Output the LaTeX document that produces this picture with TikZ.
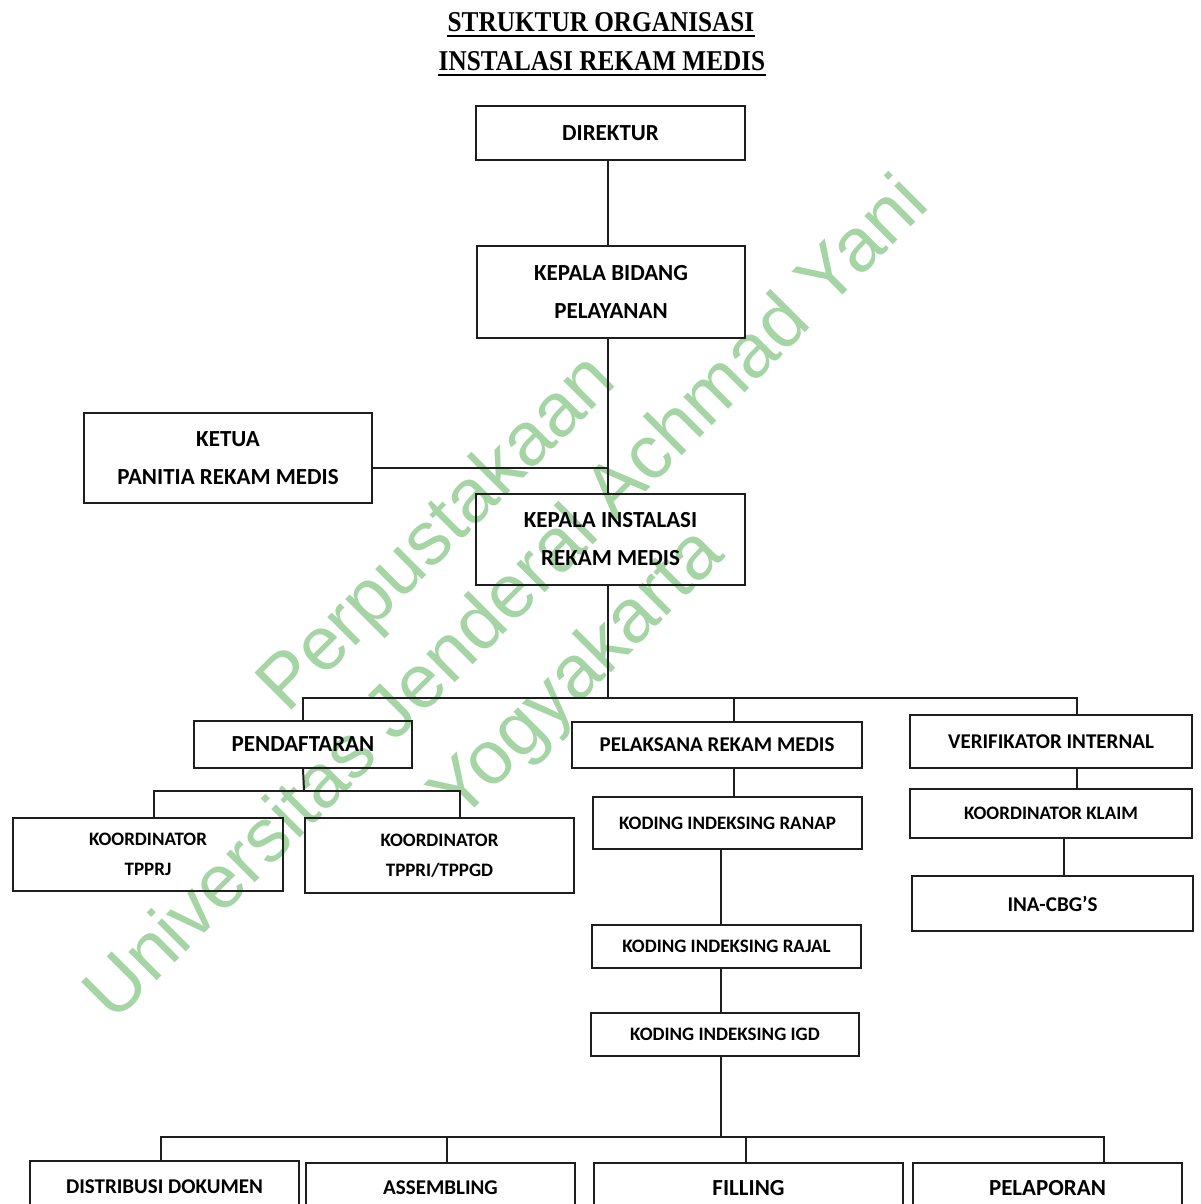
\documentclass[tikz,border=0pt]{standalone}
\usepackage{graphicx}
\usepackage{fontspec}
\setmainfont{Carlito}
\newfontfamily\titlefont{Liberation Serif}
\newfontfamily\wmfont{Liberation Sans}
\definecolor{wmgreen}{RGB}{165,212,165}
\definecolor{linec}{RGB}{30,30,30}
\tikzset{
  box/.style={draw=linec, line width=1pt, inner sep=0pt, align=center, text=black},
  big/.style={font=\bfseries\fontsize{11.5}{19}\selectfont},
  mid/.style={font=\bfseries\fontsize{10.5}{17}\selectfont},
  small/.style={font=\bfseries\fontsize{9.5}{15}\selectfont},
  conn/.style={draw=linec, line width=1pt},
  wm/.style={font=\wmfont\fontsize{38}{40}\selectfont, text=wmgreen, rotate=45, anchor=base, inner sep=0pt},
  ttl/.style={font=\titlefont\bfseries\fontsize{14.35}{17}\selectfont, inner sep=0pt, anchor=base}
}
\begin{document}
\begin{tikzpicture}[x=0.5pt, y=-0.5pt]
\useasboundingbox (0,0) rectangle (1200,1204);
\fill[white] (0,0) rectangle (1200,1204);
\clip (0,0) rectangle (1200,1204);

% watermark
\node[wm] (w1) at (453,549) {Perpustakaan};
\node[wm] (w2) at (523,615) {Universitas Jenderal Achmad Yani};
\node[wm] (w3) at (593,690) {Yogyakarta};

% title
\node[ttl] (t1) at (601,32) {\scalebox{0.88}[1]{STRUKTUR ORGANISASI}};
\node[ttl] (t2) at (602,71) {\scalebox{0.88}[1]{INSTALASI REKAM MEDIS}};
\draw[line width=1pt] ([yshift=-2pt]t1.base west) -- ([yshift=-2pt]t1.base east);
\draw[line width=1pt] ([yshift=-2pt]t2.base west) -- ([yshift=-2pt]t2.base east);

% boxes
\node[box, big, minimum width=134.5pt, minimum height=27pt] (dir) at (610.5,133) {DIREKTUR};
\node[box, big, minimum width=134pt, minimum height=46pt] (kbp) at (611,292) {KEPALA BIDANG\\PELAYANAN};
\node[box, big, minimum width=144pt, minimum height=45pt] (ketua) at (228,458) {KETUA\\PANITIA REKAM MEDIS};
\node[box, big, minimum width=134.5pt, minimum height=45.5pt] (kirm) at (610.5,539.5) {KEPALA INSTALASI\\REKAM MEDIS};
\node[box, big, minimum width=109pt, minimum height=23.5pt] (pend) at (303,744.5) {PENDAFTARAN};
\node[box, mid, minimum width=145pt, minimum height=23pt] (pel) at (717,745) {PELAKSANA REKAM MEDIS};
\node[box, mid, minimum width=141pt, minimum height=26.5pt] (verif) at (1051,741.5) {VERIFIKATOR INTERNAL};
\node[box, small, minimum width=135pt, minimum height=36.5pt] (tpprj) at (148,854.5) {KOORDINATOR\\TPPRJ};
\node[box, small, minimum width=134.5pt, minimum height=37.5pt] (tppri) at (439.5,855.5) {KOORDINATOR\\TPPRI/TPPGD};
\node[box, small, minimum width=134.5pt, minimum height=26pt] (ranap) at (727.5,823) {KODING INDEKSING RANAP};
\node[box, small, minimum width=141pt, minimum height=24.5pt] (klaim) at (1051,813.5) {KOORDINATOR KLAIM};
\node[box, mid, minimum width=140.5pt, minimum height=27.5pt] (ina) at (1052.5,903.5) {INA-CBG'S};
\node[box, small, minimum width=134.5pt, minimum height=21.5pt] (rajal) at (726.5,946.5) {KODING INDEKSING RAJAL};
\node[box, small, minimum width=134pt, minimum height=21.5pt] (igd) at (725,1034.5) {KODING INDEKSING IGD};
\node[box, mid, minimum width=134.5pt, minimum height=26pt] (dist) at (164.5,1187) {DISTRIBUSI DOKUMEN};
\node[box, mid, minimum width=134.5pt, minimum height=25pt] (assem) at (440.5,1188) {ASSEMBLING};
\node[box, big, minimum width=154.5pt, minimum height=25pt] (fill) at (748.5,1188) {FILLING};
\node[box, big, minimum width=134.5pt, minimum height=25pt] (pelap) at (1047.5,1188) {PELAPORAN};

% connector coordinates
\coordinate (tr) at (608,0);
\coordinate (kj) at (608,468);
\coordinate (b1) at (608,698);
\coordinate (vd) at (1077,0);
\coordinate (vi) at (1064,0);
\coordinate (pd) at (734,0);
\coordinate (sb) at (304,791);
\coordinate (c1) at (154,791);
\coordinate (c2) at (460,791);
\coordinate (kx) at (721,0);
\coordinate (b3) at (721,1137);
\coordinate (d1) at (161,1137);
\coordinate (d2) at (447,1137);
\coordinate (d3) at (746,1137);
\coordinate (d4) at (1104,1137);

% connectors
\draw[conn] (tr |- dir.south) -- (tr |- kbp.north);
\draw[conn] (tr |- kbp.south) -- (tr |- kirm.north);
\draw[conn] (kj -| ketua.east) -- (kj);
\draw[conn] (tr |- kirm.south) -- (b1);
\draw[conn] (pend.north) |- (b1) -- (b1 -| vd) -- (vd |- verif.north);
\draw[conn] (pd |- b1) -- (pd |- pel.north);
\draw[conn] (pend.south) -- (sb);
\draw[conn] (c1 |- tpprj.north) -- (c1) -- (c2) -- (c2 |- tppri.north);
\draw[conn] (pd |- pel.south) -- (pd |- ranap.north);
\draw[conn] (kx |- ranap.south) -- (kx |- rajal.north);
\draw[conn] (kx |- rajal.south) -- (kx |- igd.north);
\draw[conn] (kx |- igd.south) -- (b3);
\draw[conn] (d1 |- dist.north) -- (d1) -- (d4) -- (d4 |- pelap.north);
\draw[conn] (d2) -- (d2 |- assem.north);
\draw[conn] (d3) -- (d3 |- fill.north);
\draw[conn] (vd |- verif.south) -- (vd |- klaim.north);
\draw[conn] (vi |- klaim.south) -- (vi |- ina.north);
\end{tikzpicture}
\end{document}
